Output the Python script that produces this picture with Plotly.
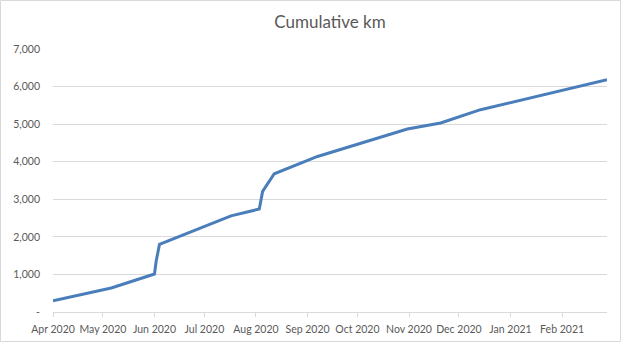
import plotly.graph_objects as go

dates = ["2020-04-01", "2020-05-06", "2020-06-01", "2020-06-02", "2020-06-04",
         "2020-07-17", "2020-08-03", "2020-08-05", "2020-08-12", "2020-09-07",
         "2020-10-31", "2020-11-20", "2020-12-14", "2021-02-28"]
cum_km = [300, 640, 1010, 1350, 1800, 2560, 2740, 3210, 3680, 4140,
          4870, 5030, 5385, 6180]

month_ticks = ["2020-04-01", "2020-05-01", "2020-06-01", "2020-07-01", "2020-08-01",
               "2020-09-01", "2020-10-01", "2020-11-01", "2020-12-01", "2021-01-01",
               "2021-02-01"]
month_labels = ["Apr 2020", "May 2020", "Jun 2020", "Jul 2020", "Aug 2020", "Sep 2020",
                "Oct 2020", "Nov 2020", "Dec 2020", "Jan 2021", "Feb 2021"]
y_ticks = [0, 1000, 2000, 3000, 4000, 5000, 6000, 7000]
y_labels = ["-", "1,000", "2,000", "3,000", "4,000", "5,000", "6,000", "7,000"]

fig = go.Figure(go.Scatter(x=dates, y=cum_km, mode="lines",
                           line=dict(color="#4A7EBB", width=3), hoverinfo="skip"))

W, H = 622, 343
L, R, T, B = 53, 15, 49, 31
pw, ph = W - L - R, H - T - B

def px_x(p):
    return (p - L) / pw

def px_y(p):
    return (H - B - p) / ph

fig.update_layout(
    width=W, height=H,
    margin=dict(l=L, r=R, t=T, b=B, autoexpand=False),
    paper_bgcolor="white", plot_bgcolor="white",
    showlegend=False,
    font=dict(family="Lato", size=10.5, color="#595959"),
    title=dict(text="Cumulative km", x=0.5, xanchor="center", xref="paper",
               y=1 - 22 / H, yanchor="middle", yref="container",
               font=dict(family="Lato", size=17, color="#595959")),
    xaxis=dict(type="date", range=["2020-04-01", "2021-02-28"],
               tickvals=month_ticks, ticktext=month_labels, tickangle=0,
               automargin=False,
               showgrid=False, showline=True, linecolor="#D9D9D9", linewidth=1,
               ticks="outside", ticklen=4, tickcolor="#D9D9D9", tickwidth=1,
               ticklabelstandoff=3, zeroline=False),
    yaxis=dict(range=[0, 7000], tickvals=y_ticks, ticktext=y_labels,
               automargin=False,
               showgrid=True, gridcolor="#D9D9D9", gridwidth=1,
               showline=False, zeroline=False, ticks="",
               ticklabelstandoff=12),
    shapes=[dict(type="rect", xref="paper", yref="paper",
                 x0=px_x(0.5), x1=px_x(W - 1.5), y0=px_y(H - 1.5), y1=px_y(0.5),
                 line=dict(color="#D9D9D9", width=1), layer="below")],
)

fig.write_html("out.html")
